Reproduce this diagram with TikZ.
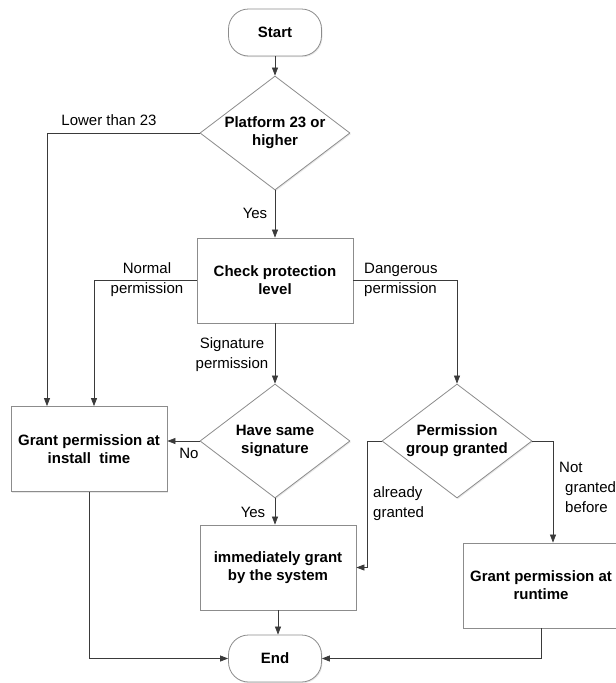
\documentclass[tikz,border=0pt]{standalone}
\usepackage{fontspec}
\setmainfont{Liberation Sans}
\usetikzlibrary{shapes.geometric,arrows.meta,shadows}
\definecolor{boxline}{HTML}{8C8C8C}
\definecolor{wire}{HTML}{3A3A3A}
\tikzset{
  base/.style={draw=boxline, line width=0.8pt, fill=white, align=center,
    font=\fontsize{15}{18}\selectfont\bfseries,
    drop shadow={opacity=0.18, shadow xshift=1pt, shadow yshift=-1.2pt}},
  terminal/.style={base, rounded corners=20pt, minimum width=93pt, minimum height=47pt},
  process/.style={base, rectangle, minimum width=156pt, minimum height=85pt, inner sep=2pt},
  decision/.style={base, diamond, minimum width=150pt, minimum height=114pt,
    inner sep=0pt, aspect=1.316},
  wire/.style={draw=wire, line width=0.7pt},
  arrow/.style={wire, -{Triangle[length=8pt,width=6pt]}},
  lbl/.style={font=\fontsize{15}{20}\selectfont, inner sep=0pt, align=center},
}
\begin{document}
\begin{tikzpicture}[x=1pt,y=-1pt]
  \useasboundingbox (0,0) rectangle (616,683);
  \begin{scope}
  \clip (0,0) rectangle (616,683);

  % flowchart nodes
  \node[terminal] (start) at (275,32.5) {Start};
  \node[decision] (plat) at (275,133) {Platform 23 or\\higher};
  \node[process] (check) at (275,280.5) {Check protection\\level};
  \node[decision] (same) at (275,441) {Have same\\signature};
  \node[decision] (group) at (457,441) {Permission\\group granted};
  \node[process] (install) at (89,449) {Grant permission at\\install\ \ time};
  \node[process] (immed) at (278,567.5) {immediately grant\\by the system};
  \node[process] (runtime) at (541,585.5) {Grant permission at\\runtime};
  \node[terminal] (end) at (275,658.5) {End};

  % connectors
  \draw[arrow] (start) -- (plat);
  \draw[arrow] (plat.west) -| ([xshift=-42pt]install.north);
  \draw[arrow] (plat) -- (check);
  \draw[arrow] (check.west) -| ([xshift=5pt]install.north);
  \draw[arrow] (check.east) -| (group.north);
  \draw[arrow] (check) -- (same);
  \draw[arrow] (same.west) -- (same.west -| install.east);
  \draw[arrow] (same.south) -- (same.south |- immed.north);
  \draw[arrow] (group.west) -- ++(-14,0) |- (immed.east);
  \draw[arrow] (group.east) -| ([xshift=12pt]runtime.north);
  \draw[arrow] (immed.south) -- (immed.south |- end.north);
  \draw[arrow] (install.south) |- (end.west);
  \draw[arrow] (runtime.south) |- (end.east);

  % connector labels
  \node[lbl] (lblLower) at (109,120) {Lower than 23};
  \node[lbl] (lblYesA) at (255,213) {Yes};
  \node[lbl] (lblNormal) at (147,280) {Normal\\permission};
  \node[lbl, anchor=west, align=left] (lblDanger) at (364,280) {Dangerous\\permission};
  \node[lbl] (lblSig) at (232,355) {Signature\\permission};
  \node[lbl] (lblNo) at (189,453) {No};
  \node[lbl] (lblYesB) at (253,512) {Yes};
  \node[lbl, anchor=west, align=left] (lblAlready) at (373,504) {already\\granted};
  \node[lbl, anchor=west, align=left] (lblNot) at (559,487) {Not\\\hspace{6pt}granted\\\hspace{6pt}before};
  \end{scope}
\end{tikzpicture}
\end{document}
